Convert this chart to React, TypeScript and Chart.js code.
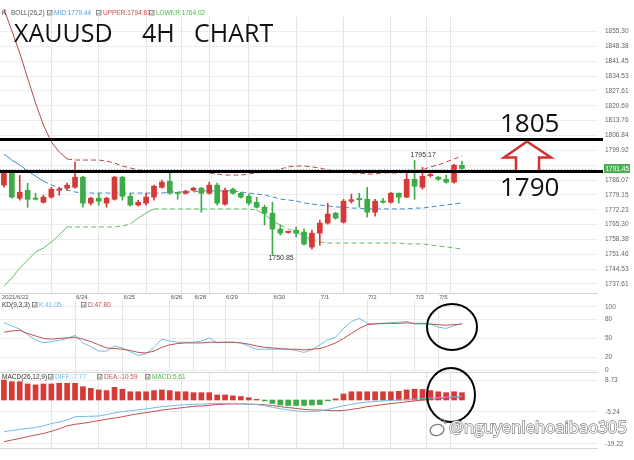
import React, { useEffect, useRef } from "react";
import { Chart, registerables } from "chart.js";

Chart.register(...registerables);

// ---------------- data ----------------
const opens = [1783.7, 1789.7, 1777.6, 1781.3, 1777.4, 1775.7, 1778.1, 1781.3, 1782.3, 1782.7,
  1787.4, 1775.3, 1777.6, 1775.3, 1777.1, 1787.4, 1778.5, 1774.4, 1775.3, 1778.1,
  1782.7, 1785.5, 1779.9, 1779.9, 1781.3, 1782.3, 1779.9, 1783.7, 1774.8, 1781.8,
  1779.9, 1778.5, 1775.7, 1773.4, 1770.6, 1763.2, 1761.6, 1762.7, 1761.8, 1754.8,
  1761.3, 1766.0, 1770.6, 1766.4, 1776.2, 1777.1, 1777.1, 1771.1, 1776.2, 1775.7,
  1779.9, 1778.1, 1786.4, 1782.7, 1788.1, 1787.4, 1786.4, 1785.1, 1793.0];
const highs = [1790.6, 1790.4, 1788.3, 1784.6, 1779.9, 1779.0, 1782.7, 1782.7, 1784.6, 1794.4,
  1787.8, 1778.1, 1779.9, 1778.1, 1787.8, 1787.8, 1779.9, 1776.7, 1779.9, 1783.7,
  1786.0, 1789.2, 1780.2, 1781.3, 1782.7, 1782.7, 1785.1, 1784.6, 1782.3, 1782.3,
  1780.4, 1779.5, 1778.1, 1774.4, 1775.7, 1765.1, 1762.3, 1764.1, 1763.2, 1762.7,
  1767.4, 1775.3, 1771.1, 1777.1, 1779.5, 1779.9, 1782.7, 1777.1, 1777.6, 1780.4,
  1780.1, 1789.2, 1795.17, 1792.0, 1789.7, 1787.8, 1788.3, 1793.4, 1794.8];
const lows = [1782.7, 1777.6, 1776.7, 1773.4, 1776.7, 1775.3, 1777.6, 1779.0, 1781.3, 1782.3,
  1773.4, 1774.4, 1774.4, 1773.4, 1776.7, 1776.7, 1773.9, 1773.9, 1774.4, 1776.7,
  1782.3, 1779.5, 1777.1, 1779.5, 1780.9, 1771.1, 1779.5, 1774.4, 1774.4, 1779.5,
  1777.6, 1774.4, 1773.0, 1765.1, 1750.85, 1760.4, 1761.3, 1759.5, 1755.7, 1753.9,
  1755.7, 1765.5, 1767.8, 1766.0, 1775.3, 1773.4, 1768.8, 1769.2, 1775.3, 1775.3,
  1775.3, 1777.9, 1777.1, 1781.8, 1787.4, 1786.0, 1784.6, 1784.6, 1790.6];
const closes = [1789.7, 1778.1, 1780.4, 1777.1, 1777.1, 1778.1, 1781.8, 1781.5, 1783.7, 1787.4,
  1775.3, 1777.6, 1776.2, 1777.6, 1787.4, 1778.5, 1774.4, 1775.7, 1778.1, 1783.2,
  1785.1, 1779.9, 1779.8, 1780.9, 1782.3, 1779.9, 1783.7, 1775.3, 1781.3, 1779.9,
  1778.1, 1775.3, 1773.4, 1770.6, 1763.2, 1761.3, 1761.8, 1761.3, 1756.2, 1761.3,
  1766.0, 1770.2, 1768.3, 1776.2, 1776.9, 1776.9, 1771.1, 1776.2, 1775.7, 1779.9,
  1778.1, 1786.4, 1783.2, 1787.8, 1788.3, 1786.4, 1785.1, 1793.0, 1791.45];

const bollUpper = [1865.8, 1855.6, 1845.3, 1833.6, 1822.0, 1811.7, 1803.8, 1799.2, 1795.9, 1795.4,
  1795.4, 1795.4, 1795.4, 1794.9, 1794.0, 1792.6, 1791.7, 1790.8, 1790.3, 1790.3,
  1790.3, 1789.8, 1789.8, 1789.8, 1789.8, 1789.8, 1789.4, 1788.9, 1788.4, 1788.4,
  1788.4, 1788.9, 1789.4, 1789.8, 1790.3, 1791.2, 1792.2, 1792.6, 1792.6, 1792.2,
  1791.7, 1790.8, 1790.3, 1789.8, 1789.4, 1789.4, 1788.9, 1788.9, 1789.4, 1789.4,
  1789.4, 1789.8, 1790.3, 1790.8, 1792.2, 1793.1, 1794.5, 1795.9, 1797.3];
const bollMid = [1798.2, 1795.4, 1793.1, 1790.3, 1787.9, 1785.6, 1783.8, 1782.4, 1781.4, 1780.5,
  1780.0, 1780.0, 1780.0, 1780.0, 1780.0, 1780.0, 1780.0, 1780.0, 1780.0, 1780.0,
  1780.0, 1780.5, 1780.5, 1780.5, 1780.5, 1781.0, 1781.0, 1781.0, 1781.0, 1781.0,
  1780.5, 1780.0, 1779.6, 1779.1, 1778.2, 1777.2, 1776.8, 1776.3, 1775.4, 1774.9,
  1774.4, 1774.0, 1773.5, 1773.5, 1773.0, 1773.0, 1772.6, 1772.6, 1772.6, 1772.6,
  1772.6, 1772.6, 1773.0, 1773.0, 1773.5, 1774.0, 1774.4, 1774.9, 1775.4];
const bollLower = [1736.7, 1740.4, 1745.1, 1748.8, 1752.5, 1754.4, 1757.2, 1760.5, 1764.2, 1764.2,
  1764.2, 1764.2, 1764.2, 1764.2, 1764.2, 1764.6, 1765.6, 1768.4, 1770.7, 1772.6,
  1772.6, 1772.6, 1772.6, 1772.6, 1772.6, 1772.6, 1772.6, 1772.6, 1772.6, 1772.6,
  1772.6, 1772.6, 1772.1, 1770.2, 1767.0, 1765.1, 1763.3, 1761.9, 1760.0, 1758.1,
  1757.2, 1756.7, 1756.7, 1756.7, 1756.7, 1756.7, 1756.7, 1756.7, 1756.7, 1756.7,
  1756.7, 1756.3, 1756.3, 1756.3, 1755.8, 1755.3, 1754.9, 1754.4, 1753.9];

const kLine = [75, 70, 65, 56, 48, 43, 45, 47, 50, 55, 43, 37, 30, 30, 38, 35, 29, 23, 26, 36,
  49, 46, 44, 44, 44, 46, 51, 43, 44, 44, 43, 38, 33, 33, 33, 33, 33, 31, 28, 32,
  40, 48, 52, 66, 77, 82, 74, 74, 74, 75, 76, 77, 73, 73, 73, 68, 66, 70, 74];
const dLine = [60, 62, 63, 58, 54, 50, 49, 50, 51, 52, 49, 45, 40, 35, 34, 33, 31, 28, 27, 30,
  36, 40, 42, 43, 43, 43, 44, 44, 44, 44, 43, 41, 38, 36, 35, 34, 33, 33, 32, 33,
  34, 38, 43, 50, 58, 66, 72, 73, 74, 74, 74, 75, 74, 74, 73, 72, 71, 72, 73];

const macdHist = [8.7, 8.0, 8.0, 7.0, 6.6, 7.0, 7.0, 7.3, 7.3, 7.3, 5.8, 5.1, 4.4, 4.1, 5.5, 4.7, 3.6, 3.6, 3.6, 4.1,
  4.4, 4.1, 3.6, 3.6, 3.2, 3.2, 3.2, 2.2, 2.2, 1.8, 1.5, 1.0, 0.3, -0.4, -1.5, -2.2, -2.4, -2.4, -2.4, -2.2,
  -2.0, -0.4, 0.5, 2.6, 3.6, 3.6, 3.6, 3.6, 3.6, 3.6, 3.8, 4.4, 4.7, 4.6, 4.1, 3.6, 3.2, 3.6, 3.2];
const diffLine = [-13.8, -13.3, -12.8, -12.4, -12.0, -11.3, -10.3, -9.6, -8.7, -7.3, -7.2, -7.1, -7.0, -6.4, -5.6, -5.1, -4.7, -4.3, -3.9, -3.4,
  -2.9, -2.6, -2.3, -2.1, -1.9, -1.8, -1.6, -1.5, -1.5, -1.5, -1.6, -1.8, -2.0, -2.5, -3.2, -3.8, -4.3, -4.8, -5.1, -5.1,
  -4.8, -4.1, -3.3, -2.5, -1.9, -1.3, -0.9, -0.6, -0.4, -0.2, 0.0, 0.2, 0.4, 0.6, 0.8, 1.0, 1.2, 1.4, 1.7];
const deaLine = [-18.2, -17.5, -16.8, -16.0, -15.3, -14.6, -13.7, -12.6, -11.3, -10.6, -10.2, -9.6, -9.0, -8.4, -7.9, -7.3, -6.6, -6.0, -5.5, -5.0,
  -4.4, -4.0, -3.6, -3.2, -2.8, -2.6, -2.3, -2.0, -1.8, -1.7, -1.7, -1.8, -1.9, -2.1, -2.4, -2.9, -3.3, -3.7, -4.1, -4.3,
  -4.4, -4.6, -4.7, -4.6, -4.1, -3.6, -2.9, -2.5, -2.0, -1.6, -1.2, -0.8, -0.4, 0.0, 0.3, 0.6, 0.9, 1.1, 1.4];

const dateIdx = [0, 9, 15, 21, 24, 28, 34, 40, 46, 52, 55];
const dateLabels = ["2021/6/22", "6/24", "6/25", "6/26", "6/28", "6/29", "6/30", "7/1", "7/2", "7/3", "7/5"];
const mainTicks = [1737.61, 1744.53, 1751.46, 1758.38, 1765.30, 1772.23, 1779.15, 1786.07, 1792.99,
  1799.92, 1806.84, 1813.76, 1820.69, 1827.61, 1834.53, 1841.45, 1848.38, 1855.30];
const hiddenMainTick = 1792.99;
const kdTicks = [0, 20, 50, 80, 100];
const macdTicks = [-19.22, -5.24, 8.73];

const lastPrice = 1791.45;
const levels = [1805, 1790];
const highMark = { i: 52, v: 1795.17 };
const lowMark = { i: 34, v: 1750.85 };

const bollLegend = ["K", "BOLL(26,2)", "MID:1779.44", "UPPER:1794.87", "LOWER:1764.02"];
const kdLegend = ["KD(9,3,3)", "K:41.05", "D:47.80"];
const macdLegend = ["MACD(26,12,9)", "DIFF:-7.77", "DEA:-10.59", "MACD:5.61"];
const watermark = "@nguyenlehoaibao305";

// ---------------- layout / style ----------------
const W = 634, H = 460;
const AXIS_W = 37;
const X_MIN = -0.5, X_MAX = 75.1;
const RED = "#d63a37", GREEN = "#3dab47";
const BLUE_L = "#6fbde6", RED_L = "#c0504d";
const FONT = "'Liberation Sans', Arial, sans-serif";
const BIG = "'Open Sans', 'Noto Sans', sans-serif";

const idx = closes.map((_, i) => i);
const candleColor = (i: number) => (closes[i] >= opens[i] ? RED : GREEN);
// band lines: solid on steep segments, dashed on flat ones
const bandSegment = {
  borderDash: (c: any) => (Math.abs(c.p1.y - c.p0.y) > 4 ? [] : [5, 3]),
};

function text(ctx: any, s: string, x: number, y: number, size: number, color: string,
  align: CanvasTextAlign = "left", family = FONT, baseline: CanvasTextBaseline = "middle") {
  ctx.save();
  ctx.font = `${size}px ${family}`;
  ctx.fillStyle = color;
  ctx.textAlign = align;
  ctx.textBaseline = baseline;
  ctx.fillText(s, x, y);
  ctx.restore();
}

function check(ctx: any, x: number, y: number) {
  ctx.save();
  ctx.strokeStyle = "#777";
  ctx.lineWidth = 0.8;
  ctx.strokeRect(x + 0.5, y - 2.5, 4.5, 4.5);
  ctx.beginPath();
  ctx.moveTo(x + 1.4, y - 0.3);
  ctx.lineTo(x + 2.6, y + 1.1);
  ctx.lineTo(x + 4.6, y - 1.8);
  ctx.stroke();
  ctx.restore();
}

function xAxis(): any {
  return {
    type: "linear",
    min: X_MIN,
    max: X_MAX,
    offset: false,
    afterBuildTicks: (s: any) => { s.ticks = dateIdx.slice(1).map((v) => ({ value: v })); },
    afterFit: (s: any) => { s.height = 0; },
    ticks: { display: false },
    grid: { color: "#e4e4e4", drawTicks: false },
    border: { display: true, color: "#d6d6d6" },
  };
}

function yAxis(min: number, max: number, ticks: number[], fmt: (v: number) => string): any {
  return {
    type: "linear",
    position: "right",
    min,
    max,
    afterBuildTicks: (s: any) => { s.ticks = ticks.map((v) => ({ value: v })); },
    afterFit: (s: any) => { s.width = AXIS_W; },
    ticks: { callback: (v: any) => fmt(Number(v)), padding: 8, color: "#666", autoSkip: false, font: { size: 6.5, family: FONT } },
    grid: { color: "#ededed", drawTicks: false },
    border: { display: false },
  };
}

const baseOptions = (top: number, bottom: number): any => ({
  responsive: false,
  maintainAspectRatio: false,
  animation: false,
  events: [],
  layout: { padding: { top, bottom: H - bottom, left: 0, right: 0 } },
  plugins: { legend: { display: false }, tooltip: { enabled: false } },
});

// ---------------- plugins ----------------
const mainOverlay = {
  id: "mainOverlay",
  afterDraw(chart: any) {
    const { ctx, chartArea: a, scales } = chart;
    const xs = scales.x, ys = scales.y;
    ctx.save();
    // current price dotted line
    const py = ys.getPixelForValue(lastPrice);
    ctx.strokeStyle = "#90a4ba";
    ctx.lineWidth = 1;
    ctx.setLineDash([1, 2]);
    ctx.beginPath();
    ctx.moveTo(a.left, Math.round(py) + 0.5);
    ctx.lineTo(a.right, Math.round(py) + 0.5);
    ctx.stroke();
    ctx.setLineDash([]);

    // red outlined up arrow between the levels
    const tipY = ys.getPixelForValue(levels[0]) + 2;
    const baseY = ys.getPixelForValue(levels[1]);
    const headY = tipY + 16;
    ctx.beginPath();
    ctx.moveTo(527, tipY);
    ctx.lineTo(551, headY);
    ctx.lineTo(539, headY);
    ctx.lineTo(539, baseY);
    ctx.lineTo(516, baseY);
    ctx.lineTo(516, headY);
    ctx.lineTo(504, headY);
    ctx.closePath();
    ctx.fillStyle = "#fff";
    ctx.fill();
    ctx.strokeStyle = "#d2322d";
    ctx.lineWidth = 2.5;
    ctx.stroke();

    // black level lines
    ctx.strokeStyle = "#000";
    ctx.lineWidth = 3;
    levels.forEach((v) => {
      const y = ys.getPixelForValue(v);
      ctx.beginPath();
      ctx.moveTo(0, y);
      ctx.lineTo(a.right + 6, y);
      ctx.stroke();
    });

    // current price box
    ctx.fillStyle = "#4caf50";
    ctx.fillRect(a.right + 7, py - 4.5, 26, 9);
    text(ctx, lastPrice.toFixed(2), a.right + 8.5, py + 0.5, 6.5, "#fff");

    // high / low marks
    text(ctx, highMark.v.toFixed(2), xs.getPixelForValue(highMark.i) - 4, ys.getPixelForValue(highMark.v) - 5, 7, "#333");
    text(ctx, lowMark.v.toFixed(2), xs.getPixelForValue(lowMark.i) - 4, ys.getPixelForValue(lowMark.v) + 2, 7, "#333");

    // level numbers
    text(ctx, String(levels[0]), 500, 132, 26, "#111", "left", BIG, "alphabetic");
    text(ctx, String(levels[1]), 500, 196, 26, "#111", "left", BIG, "alphabetic");

    // title
    text(ctx, "XAUUSD", 14, 42, 25, "#111", "left", BIG, "alphabetic");
    text(ctx, "4H", 142, 42, 25, "#111", "left", BIG, "alphabetic");
    text(ctx, "CHART", 194, 42, 25, "#111", "left", BIG, "alphabetic");

    // legend row
    const ly = 13;
    text(ctx, bollLegend[0], 2, ly, 6.5, "#333");
    text(ctx, bollLegend[1], 11, ly, 6.5, "#555");
    check(ctx, 47, ly); text(ctx, bollLegend[2], 54, ly, 6.5, "#4a9fd8");
    check(ctx, 96, ly); text(ctx, bollLegend[3], 103, ly, 6.5, "#d04848");
    check(ctx, 149, ly); text(ctx, bollLegend[4], 156, ly, 6.5, "#45b94a");

    // date labels
    dateIdx.forEach((v, k) => {
      const x = k === 0 ? a.left + 2 : xs.getPixelForValue(v) + 1;
      text(ctx, dateLabels[k], x, a.bottom + 4.5, 6, "#555");
    });
    ctx.restore();
  },
};

const kdOverlay = {
  id: "kdOverlay",
  afterDraw(chart: any) {
    const { ctx } = chart;
    const ly = 305;
    text(ctx, kdLegend[0], 2, ly, 6.5, "#333");
    check(ctx, 32, ly); text(ctx, kdLegend[1], 39, ly, 6.5, BLUE_L);
    check(ctx, 81, ly); text(ctx, kdLegend[2], 88, ly, 6.5, RED_L);
    ctx.save();
    ctx.strokeStyle = "#000";
    ctx.lineWidth = 2;
    ctx.beginPath();
    ctx.ellipse(452, 327, 25, 23, 0, 0, Math.PI * 2);
    ctx.stroke();
    ctx.restore();
  },
};

const macdOverlay = {
  id: "macdOverlay",
  afterDraw(chart: any) {
    const { ctx } = chart;
    const ly = 377;
    text(ctx, macdLegend[0], 2, ly, 6.5, "#333");
    check(ctx, 48, ly); text(ctx, macdLegend[1], 55, ly, 6.5, BLUE_L);
    check(ctx, 97, ly); text(ctx, macdLegend[2], 104, ly, 6.5, RED_L);
    check(ctx, 145, ly); text(ctx, macdLegend[3], 152, ly, 6.5, "#45b94a");
    ctx.save();
    ctx.strokeStyle = "#000";
    ctx.lineWidth = 2;
    ctx.beginPath();
    ctx.ellipse(451, 395, 24, 27, 0, 0, Math.PI * 2);
    ctx.stroke();

    // watermark
    ctx.font = `18px ${BIG}`;
    const w = ctx.measureText(watermark).width;
    const size = (18 * 178) / w;
    ctx.font = `${size}px ${BIG}`;
    ctx.textAlign = "left";
    ctx.textBaseline = "alphabetic";
    ctx.lineWidth = 1.4;
    ctx.strokeStyle = "#808080";
    ctx.strokeText(watermark, 449, 433);
    ctx.fillStyle = "#fff";
    ctx.fillText(watermark, 449, 433);
    // small logo
    ctx.beginPath();
    ctx.ellipse(437, 430, 7, 5.5, -0.2, 0, Math.PI * 2);
    ctx.fillStyle = "#fff";
    ctx.fill();
    ctx.lineWidth = 1.4;
    ctx.stroke();
    ctx.beginPath();
    ctx.arc(441, 423, 4, -Math.PI * 0.6, Math.PI * 0.1);
    ctx.stroke();
    ctx.restore();
  },
};

// ---------------- component ----------------
export default function App() {
  const mainRef = useRef<HTMLCanvasElement>(null);
  const kdRef = useRef<HTMLCanvasElement>(null);
  const macdRef = useRef<HTMLCanvasElement>(null);

  useEffect(() => {
    const charts: Chart[] = [];

    charts.push(new Chart(mainRef.current as HTMLCanvasElement, {
      type: "bar",
      data: {
        labels: idx as any,
        datasets: [
          {
            type: "bar",
            label: "body",
            data: opens.map((o, i) => [o, closes[i]]) as any,
            backgroundColor: (c: any) => candleColor(c.dataIndex),
            barThickness: 5,
            grouped: false,
            minBarLength: 1.2,
            order: 0,
          } as any,
          {
            type: "bar",
            label: "wick",
            data: lows.map((l, i) => [l, highs[i]]) as any,
            backgroundColor: (c: any) => candleColor(c.dataIndex),
            barThickness: 1,
            grouped: false,
            order: 1,
          } as any,
          { type: "line", label: "UPPER", data: bollUpper, borderColor: "#b54848", borderWidth: 1, segment: bandSegment, pointRadius: 0, order: 2, clip: false } as any,
          { type: "line", label: "MID", data: bollMid, borderColor: "#3d8cc9", borderWidth: 1, segment: bandSegment, pointRadius: 0, order: 2 } as any,
          { type: "line", label: "LOWER", data: bollLower, borderColor: "#63bd68", borderWidth: 1, segment: bandSegment, pointRadius: 0, order: 2 } as any,
        ],
      },
      options: {
        ...baseOptions(17, 293),
        scales: {
          x: xAxis(),
          y: yAxis(1733.41, 1862.09, mainTicks, (v) => (v === hiddenMainTick ? "" : v.toFixed(2))),
        },
      },
      plugins: [mainOverlay],
    }));

    charts.push(new Chart(kdRef.current as HTMLCanvasElement, {
      type: "line",
      data: {
        labels: idx as any,
        datasets: [
          { label: "D", data: dLine, borderColor: RED_L, borderWidth: 1, pointRadius: 0 },
          { label: "K", data: kLine, borderColor: BLUE_L, borderWidth: 1, pointRadius: 0 },
        ],
      },
      options: {
        ...baseOptions(300, 372),
        scales: { x: xAxis(), y: yAxis(-3.17, 111.1, kdTicks, (v) => String(v)) },
      },
      plugins: [kdOverlay],
    }));

    charts.push(new Chart(macdRef.current as HTMLCanvasElement, {
      type: "bar",
      data: {
        labels: idx as any,
        datasets: [
          { type: "line", label: "DIFF", data: diffLine, borderColor: BLUE_L, borderWidth: 1, pointRadius: 0, order: 0 } as any,
          { type: "line", label: "DEA", data: deaLine, borderColor: RED_L, borderWidth: 1, pointRadius: 0, order: 0 } as any,
          {
            type: "bar",
            label: "MACD",
            data: macdHist,
            backgroundColor: (c: any) => (macdHist[c.dataIndex] >= 0 ? RED : GREEN),
            barThickness: 5,
            grouped: false,
            order: 1,
          } as any,
        ],
      },
      options: {
        ...baseOptions(373, 448),
        scales: { x: xAxis(), y: yAxis(-20.97, 11.79, macdTicks, (v) => v.toFixed(2)) },
      },
      plugins: [macdOverlay],
    }));

    return () => charts.forEach((c) => c.destroy());
  }, []);

  const cs: React.CSSProperties = { position: "absolute", left: 0, top: 0 };
  return (
    <div style={{ position: "absolute", left: 0, top: 0, width: W, height: H, background: "#fff", overflow: "hidden" }}>
      <canvas ref={mainRef} width={W} height={H} style={cs} />
      <canvas ref={kdRef} width={W} height={H} style={cs} />
      <canvas ref={macdRef} width={W} height={H} style={cs} />
    </div>
  );
}
